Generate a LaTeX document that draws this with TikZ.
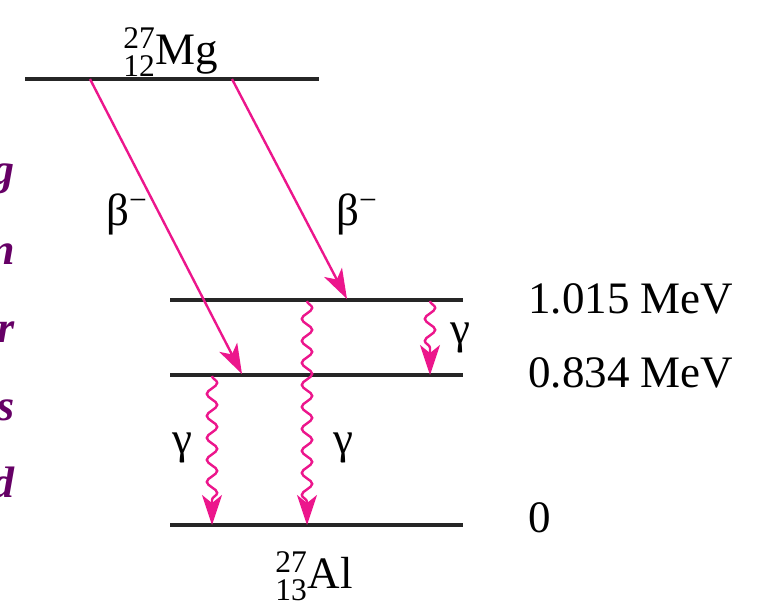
\documentclass[tikz,border=0pt]{standalone}
\usepackage{amsmath}
\usepackage{fontspec}
\setmainfont{Liberation Serif}
\usetikzlibrary{arrows.meta,decorations.pathmorphing}
\usepackage{xcolor}
\definecolor{decaypink}{RGB}{236,22,140}
\definecolor{slidepurple}{RGB}{102,0,102}

\begin{document}
\begin{tikzpicture}[
    x=0.5pt, y=-0.5pt,
    levelline/.style={line width=1.6pt, black!85},
    betaarrow/.style={-{Stealth[length=15pt, width=10pt, inset=4pt]}, line width=1.2pt, decaypink},
    gammaarrow/.style={-{Stealth[length=15pt, width=10pt, inset=4pt]}, line width=1.2pt, decaypink,
        decorate, decoration={snake, amplitude=2.6pt, segment length=11pt, post length=11pt}},
    lvltext/.style={font=\fontsize{22.5}{26}\selectfont, inner sep=0pt},
    slidetext/.style={font=\fontsize{22}{26}\selectfont\bfseries\itshape, text=slidepurple, inner sep=0pt, anchor=base east}
]
\clip (0,0) rectangle (766,602);

% Level coordinates
\coordinate (mg_left) at (25,79);
\coordinate (mg_right) at (319,79);
\coordinate (l1015_left) at (170,300);
\coordinate (l1015_right) at (463,300);
\coordinate (l834_left) at (170,375);
\coordinate (l834_right) at (463,375);
\coordinate (gnd_left) at (170,525);
\coordinate (gnd_right) at (463,525);

% Levels
\draw[levelline] (mg_left) -- (mg_right);
\draw[levelline] (l1015_left) -- (l1015_right);
\draw[levelline] (l834_left) -- (l834_right);
\draw[levelline] (gnd_left) -- (gnd_right);

% Nuclei
\node[lvltext, anchor=base] (mg) at (171,64) {${}^{\text{27}}_{\text{12}}$Mg};
\node[lvltext, anchor=base] (al) at (314,588) {${}^{\text{27}}_{\text{13}}$Al};

% Energies
\node[lvltext, anchor=base west] (e1015) at (528,313) {1.015 MeV};
\node[lvltext, anchor=base west] (e834) at (528,387) {0.834 MeV};
\node[lvltext, anchor=base west] (e0) at (528,532) {0};

% Beta decays
\coordinate (b1_start) at (90,79);
\coordinate (b1_end) at (242,374);
\coordinate (b2_start) at (232,79);
\coordinate (b2_end) at (347,299);
\draw[betaarrow] (b1_start) -- (b1_end);
\draw[betaarrow] (b2_start) -- (b2_end);
\node[lvltext] (beta1) at (127,214) {β\textsuperscript{−}};
\node[lvltext] (beta2) at (357,214) {β\textsuperscript{−}};

% Gamma transitions
\coordinate (g1_start) at (430,301);
\coordinate (g1_end) at (430,375);
\coordinate (g2_start) at (212,376);
\coordinate (g2_end) at (212,525);
\coordinate (g3_start) at (307,301);
\coordinate (g3_end) at (307,525);
\draw[gammaarrow] (g1_start) -- (g1_end);
\draw[gammaarrow] (g2_start) -- (g2_end);
\draw[gammaarrow] (g3_start) -- (g3_end);
\node[lvltext] (gamma1) at (460,338) {γ};
\node[lvltext] (gamma2) at (182,448) {γ};
\node[lvltext] (gamma3) at (343,448) {γ};

% Slide text cut off at the left
\node[slidetext] (sl_g) at (15,184) {g};
\node[slidetext] (sl_n) at (15,264) {n};
\node[slidetext] (sl_r) at (15,342) {r};
\node[slidetext] (sl_s) at (15,420) {s};
\node[slidetext] (sl_d) at (15,497) {d};

\end{tikzpicture}
\end{document}
